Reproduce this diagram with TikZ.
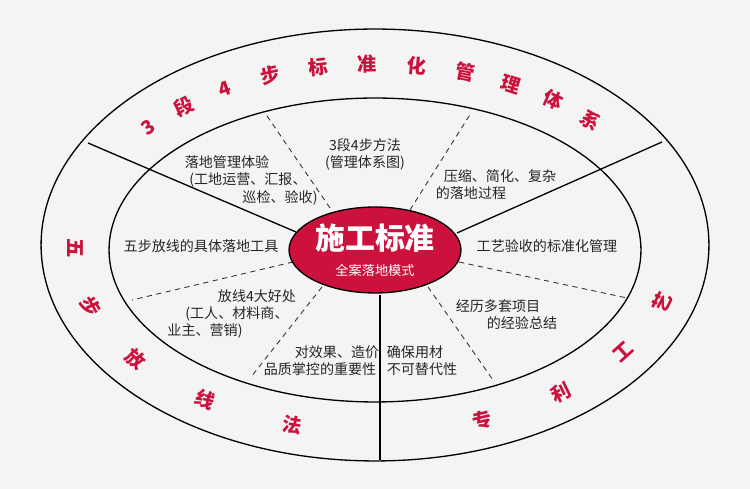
\documentclass[tikz,border=0pt]{standalone}
\usepackage{fontspec}
\setmainfont{Noto Sans CJK SC}
\usetikzlibrary{shapes.geometric}
\definecolor{bgGray}{RGB}{244,244,244}
\definecolor{brandRed}{RGB}{204,18,60}
\tikzset{
  ring/.style={draw=black, line width=0.75pt, ellipse, inner sep=0pt, outer sep=0pt},
  divider/.style={draw=black, line width=0.75pt},
  hint/.style={draw=black!80, line width=0.5pt, dash pattern=on 3pt off 2.5pt},
  label/.style={font=\fontsize{8}{9.5}\selectfont, text=black!85, inner sep=0pt},
  ringtxt/.style={font=\fontsize{11}{11}\selectfont\bfseries, text=brandRed, inner sep=0pt}
}
\begin{document}
\begin{tikzpicture}[x=0.02cm,y=0.02cm]
\fill[bgGray] (0,0) rectangle (750,489);
\useasboundingbox (0,0) rectangle (750,489);
% rings
\node[ring, minimum width=13.36cm, minimum height=8.64cm] (outer) at (375,244) {};
\node[ring, minimum width=10.64cm, minimum height=6.08cm] (inner) at (375,239) {};
% solid dividers
\coordinate (l1) at (296,257); \coordinate (l2) at (88,346);
\coordinate (r1) at (457,256); \coordinate (r2) at (662,347);
\coordinate (b1) at (380,194); \coordinate (b2) at (380,29);
\draw[divider] (l1) -- (l2);
\draw[divider] (r1) -- (r2);
\draw[divider] (b1) -- (b2);
% dashed dividers
\coordinate (d1a) at (330,281); \coordinate (d1b) at (265,376);
\coordinate (d2a) at (410,279); \coordinate (d2b) at (471,376);
\coordinate (d3a) at (293,227); \coordinate (d3b) at (132,189);
\coordinate (d4a) at (459,227); \coordinate (d4b) at (627,191);
\coordinate (d5a) at (322,202); \coordinate (d5b) at (251,112);
\coordinate (d6a) at (428,202); \coordinate (d6b) at (493,109);
\foreach \a/\b in {d1a/d1b,d2a/d2b,d3a/d3b,d4a/d4b,d5a/d5b,d6a/d6b}
  \draw[hint] (\a) -- (\b);
% core
\node[ellipse, fill=brandRed, draw=black, line width=0.75pt, minimum width=3.44cm, minimum height=1.72cm, inner sep=0pt] (core) at (375,239) {};
\node[text=white, font=\fontsize{17}{17}\selectfont\bfseries, inner sep=0pt] (title) at (375,251) {施工标准};
\node[text=white, font=\fontsize{7.5}{8}\selectfont, inner sep=0pt] (sub) at (375,219) {全案落地模式};
% inner labels
\node[label] (m1) at (365,344) {3段4步方法};
\node[label] (m2) at (365,326) {(管理体系图)};
\node[label] (s1) at (227,327) {落地管理体验};
\node[label] (s2) at (248,309) {(工地运营、汇报、};
\node[label] (s3) at (280,291) {巡检、验收)};
\node[label] (c1) at (500,313) {压缩、简化、复杂};
\node[label] (c2) at (471,296) {的落地过程};
\node[label] (w1) at (201,243) {五步放线的具体落地工具};
\node[label] (g1) at (547,243) {工艺验收的标准化管理};
\node[label] (f1) at (257,193) {放线4大好处};
\node[label] (f2) at (237,175) {(工人、材料商、};
\node[label] (f3) at (205,158) {业主、营销)};
\node[label] (e1) at (337,137) {对效果、造价};
\node[label] (e2) at (320,120) {品质掌控的重要性};
\node[label] (q1) at (415,137) {确保用材};
\node[label] (q2) at (422,120) {不可替代性};
\node[label] (x1) at (498,183) {经历多套项目};
\node[label] (x2) at (522,166) {的经验总结};
% ring texts
\foreach \ch [count=\i] in {3,段,4,步,标,准,化,管,理,体,系} {
  \pgfmathsetmacro\t{139-(\i-1)*9.5}
  \pgfmathsetmacro\r{atan2(-184*cos(\t),300*sin(\t))}
  \node[ringtxt, rotate=\r] (top\i) at ({375+300*cos(\t)},{241+184*sin(\t)}) {\ch};
}
\foreach \ch [count=\i] in {五,步,放,线,法} {
  \pgfmathsetmacro\t{180+(\i-1)*18.5}
  \pgfmathsetmacro\r{atan2(184*cos(\t),-300*sin(\t))}
  \node[ringtxt, rotate=\r] (left\i) at ({375+300*cos(\t)},{241+184*sin(\t)}) {\ch};
}
\foreach \ch [count=\i] in {专,利,工,艺} {
  \pgfmathsetmacro\t{291+(\i-1)*17.3}
  \pgfmathsetmacro\r{atan2(184*cos(\t),-300*sin(\t))}
  \node[ringtxt, rotate=\r] (right\i) at ({375+300*cos(\t)},{241+184*sin(\t)}) {\ch};
}
\end{tikzpicture}
\end{document}
